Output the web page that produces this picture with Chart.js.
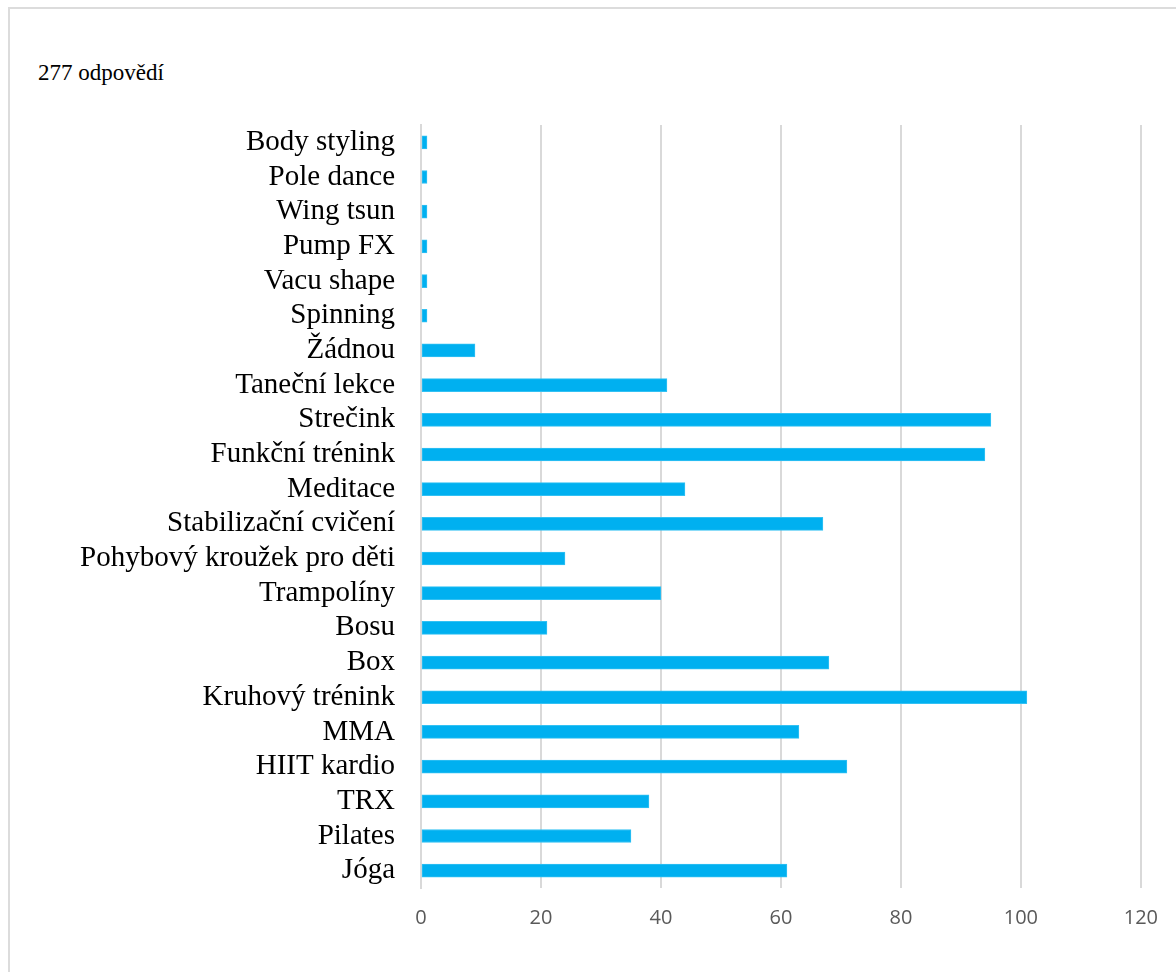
<!DOCTYPE html>
<html lang="cs">
<head>
<meta charset="utf-8">
<title>277 odpovědí</title>
<script src="https://cdn.jsdelivr.net/npm/chart.js@4.4.1/dist/chart.umd.min.js"></script>
<style>
  html, body { margin: 0; padding: 0; background: #ffffff; }
  body { width: 1176px; height: 972px; position: relative; overflow: hidden; }
  #frame {
    position: absolute; left: 8px; top: 7px; width: 1300px; height: 1100px;
    border: 2px solid #dcdcdc; box-sizing: border-box;
  }
  #count {
    position: absolute; left: 38px; top: 59px;
    font-family: "Liberation Serif", "Times New Roman", serif;
    font-size: 23px; line-height: 28px; color: #000;
  }
  #wrap { position: absolute; left: 0; top: 0; width: 1176px; height: 972px; }
</style>
</head>
<body>
<div id="frame"></div>
<div id="count">277 odpovědí</div>
<div id="wrap"><canvas id="chart" width="1176" height="972"></canvas></div>
<script>
// Activities, listed top to bottom as they appear on the vertical axis
const activities = [
  "Body styling", "Pole dance", "Wing tsun", "Pump FX", "Vacu shape", "Spinning",
  "Žádnou", "Taneční lekce", "Strečink", "Funkční trénink", "Meditace",
  "Stabilizační cvičení", "Pohybový kroužek pro děti", "Trampolíny", "Bosu", "Box",
  "Kruhový trénink", "MMA", "HIIT kardio", "TRX", "Pilates", "Jóga"
];

// Number of answers per activity
const answers = [
  1, 1, 1, 1, 1, 1,
  9, 41, 95, 94, 44,
  67, 24, 40, 21, 68,
  101, 63, 71, 38, 35, 61
];

// Horizontal axis range and step
const axisMin = 0;
const axisMax = 120;
const axisStep = 20;

const ctx = document.getElementById("chart").getContext("2d");
new Chart(ctx, {
  type: "bar",
  data: {
    labels: activities,
    datasets: [{
      data: answers,
      backgroundColor: "#00b0f0",
      borderColor: "#33c1f3",
      borderWidth: 1,
      borderSkipped: false,
      barThickness: 13
    }]
  },
  options: {
    indexAxis: "y",
    responsive: false,
    animation: false,
    layout: { padding: { top: 125, right: 34, bottom: 24, left: 0 } },
    plugins: {
      legend: { display: false },
      tooltip: { enabled: false },
      title: { display: false }
    },
    scales: {
      x: {
        min: axisMin,
        max: axisMax,
        ticks: {
          stepSize: axisStep,
          color: "#595959",
          padding: 18,
          font: { family: "'Open Sans', sans-serif", size: 20 }
        },
        grid: { color: "#d9d9d9", lineWidth: 2, drawTicks: false },
        border: { display: false },
        afterFit: (scale) => { scale.height = 60; }
      },
      y: {
        ticks: {
          color: "#000000",
          padding: 26,
          autoSkip: false,
          font: { family: "'Liberation Serif', 'Times New Roman', serif", size: 29 }
        },
        grid: { display: false, drawTicks: false },
        border: { display: true, color: "#d9d9d9", width: 2 },
        afterFit: (scale) => { scale.width = 421; }
      }
    }
  }
});
</script>
</body>
</html>
